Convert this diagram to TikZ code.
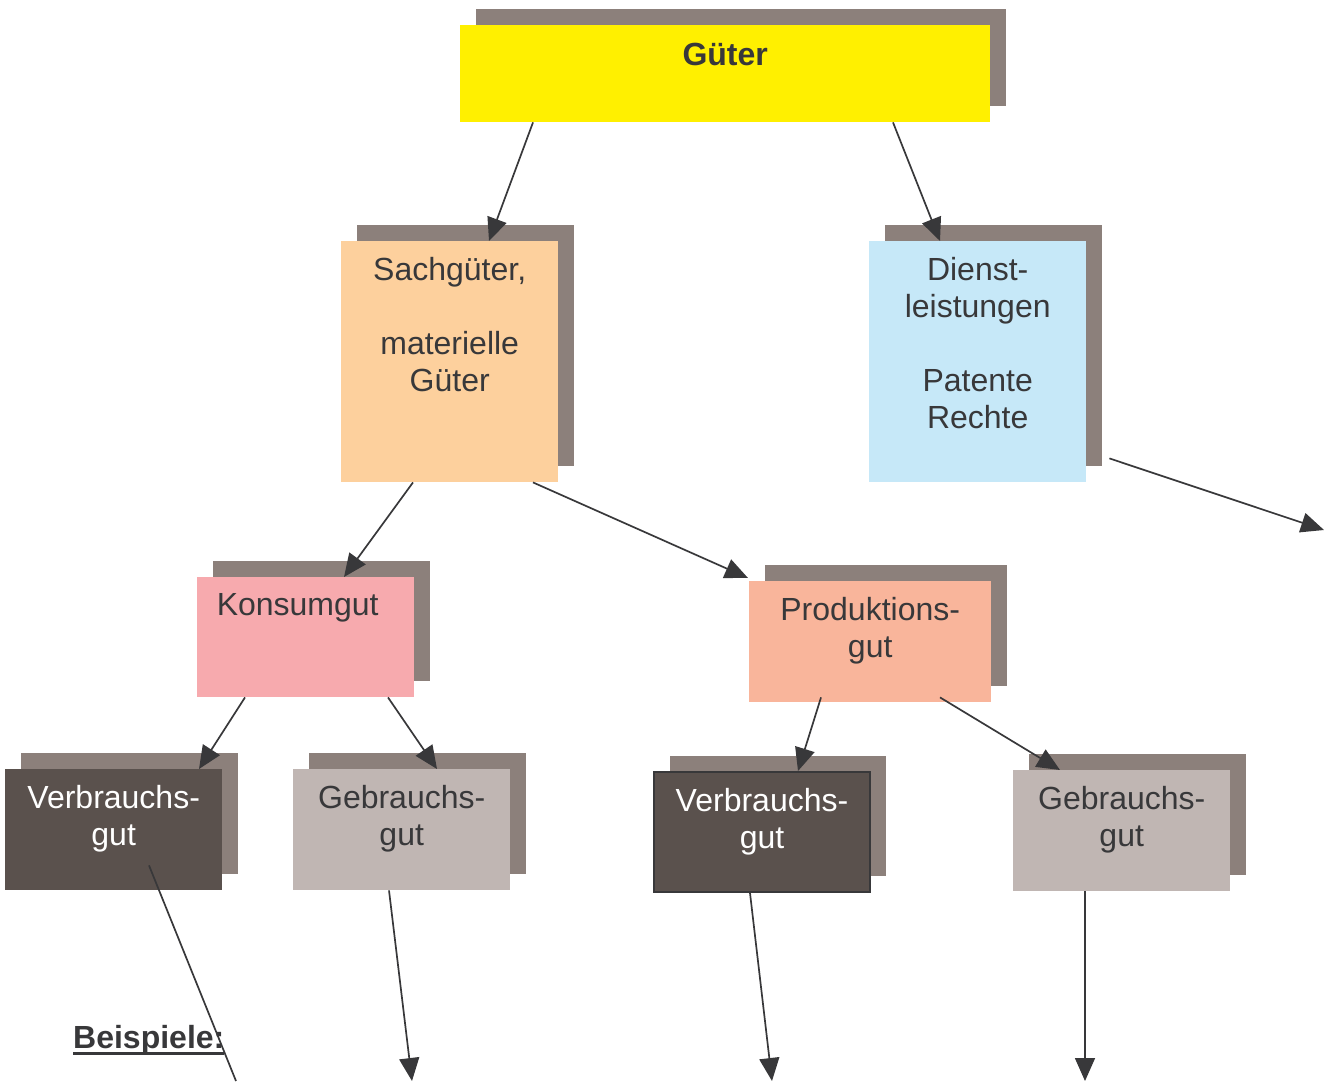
\documentclass[tikz,border=0pt]{standalone}
\usepackage{fontspec}
\setmainfont{Liberation Sans}
\usetikzlibrary{arrows.meta, shadows, calc, positioning}
\definecolor{shadowc}{HTML}{8C807B}
\definecolor{gueterc}{HTML}{FFF000}
\definecolor{sachc}{HTML}{FDD09D}
\definecolor{dienstc}{HTML}{C6E8F8}
\definecolor{konsumc}{HTML}{F7AAAE}
\definecolor{prodc}{HTML}{F9B59B}
\definecolor{darkc}{HTML}{5A514D}
\definecolor{lightc}{HTML}{C0B6B3}
\definecolor{textc}{HTML}{38383A}
\newcommand{\ulinetext}[1]{{\setbox0\hbox{#1}\rlap{\rule[-7pt]{\wd0}{2.6pt}}\box0}}
\tikzstyle{box} = [anchor=north west, inner sep=0pt, drop shadow={shadow xshift=16pt, shadow yshift=16pt, fill=shadowc, opacity=1}]
\tikzstyle{caption} = [inner sep=0pt, align=center, text=textc, font=\fontsize{32}{37}\selectfont]
\tikzstyle{arrow} = [line width=1.7pt, draw=textc, -{Triangle[length=23pt,width=20pt]}]

\begin{document}
\begin{tikzpicture}[x=1pt, y=-1pt]
    \useasboundingbox (0,0) rectangle (1324,1081);

    % boxes
    \node (gueter) [box, fill=gueterc, minimum width=530, minimum height=97] at (460,25) {};
    \node (sach) [box, fill=sachc, minimum width=217, minimum height=241] at (341,241) {};
    \node (dienst) [box, fill=dienstc, minimum width=217, minimum height=241] at (869,241) {};
    \node (konsum) [box, fill=konsumc, minimum width=217, minimum height=120] at (197,577) {};
    \node (prod) [box, fill=prodc, minimum width=242, minimum height=121] at (749,581) {};
    \node (verbrL) [box, fill=darkc, minimum width=217, minimum height=121] at (5,769) {};
    \node (gebrL) [box, fill=lightc, minimum width=217, minimum height=121] at (293,769) {};
    \node (verbrR) [box, fill=darkc, draw=textc, line width=2pt, minimum width=216, minimum height=120] at (653,771) {};
    \node (gebrR) [box, fill=lightc, minimum width=217, minimum height=121] at (1013,770) {};

    % texts
    \node (gueterT) [caption, below=14pt of gueter.north] {\strut\textbf{Güter}};
    \node (sachT) [caption, below=13pt of sach.north] {\strut Sachgüter,\\[37pt]materielle\\Güter};
    \node (dienstT) [caption, below=13pt of dienst.north] {\strut Dienst-\\leistungen\\[37pt]Patente\\Rechte};
    \node (konsumT) [caption, below=12pt of konsum.north, xshift=-8pt] {\strut Konsumgut};
    \node (prodT) [caption, below=13pt of prod.north] {\strut Produktions-\\gut};
    \node (verbrLT) [caption, text=white, below=13pt of verbrL.north] {\strut Verbrauchs-\\gut};
    \node (gebrLT) [caption, below=13pt of gebrL.north] {\strut Gebrauchs-\\gut};
    \node (verbrRT) [caption, text=white, below=14pt of verbrR.north] {\strut Verbrauchs-\\gut};
    \node (gebrRT) [caption, below=13pt of gebrR.north] {\strut Gebrauchs-\\gut};
    \node (beispiele) [caption, anchor=base west] at (73,1048) {\ulinetext{\textbf{Beispiele:}}};

    % free ends
    \coordinate (endD) at (1324,530);
    \coordinate (endVL) at (236,1081);
    \coordinate (endGL) at (412,1081);
    \coordinate (endVR) at (772,1081);
    \coordinate (endGR) at (1085,1081);

    \draw [arrow] ($(gueter.south west)+(73,0)$) -- ($(sach.north west)+(148,0)$);
    \draw [arrow] ($(gueter.south west)+(433,0)$) -- ($(dienst.north west)+(71,0)$);
    \draw [arrow] ($(sach.south west)+(72,0)$) -- ($(konsum.north west)+(147,0)$);
    \draw [arrow] ($(sach.south west)+(192,0)$) -- ($(prod.north west)+(-1,-3)$);
    \draw [arrow] ($(dienst.south east)+(23,-24)$) -- (endD);
    \draw [arrow] ($(konsum.south west)+(48,0)$) -- ($(verbrL.north west)+(194,0)$);
    \draw [arrow] ($(konsum.south west)+(191,0)$) -- ($(gebrL.north west)+(144,0)$);
    \draw [arrow] ($(prod.south west)+(72,-5)$) -- ($(verbrR.north west)+(145,0)$);
    \draw [arrow] ($(prod.south west)+(191,-5)$) -- ($(gebrR.north west)+(47,0)$);
    \draw [line width=1.7pt, draw=textc] ($(verbrL.south west)+(144,-25)$) -- (endVL);
    \draw [arrow] ($(gebrL.south west)+(96,0)$) -- (endGL);
    \draw [arrow] ($(verbrR.south west)+(97,0)$) -- (endVR);
    \draw [arrow] ($(gebrR.south west)+(72,0)$) -- (endGR);
\end{tikzpicture}
\end{document}
